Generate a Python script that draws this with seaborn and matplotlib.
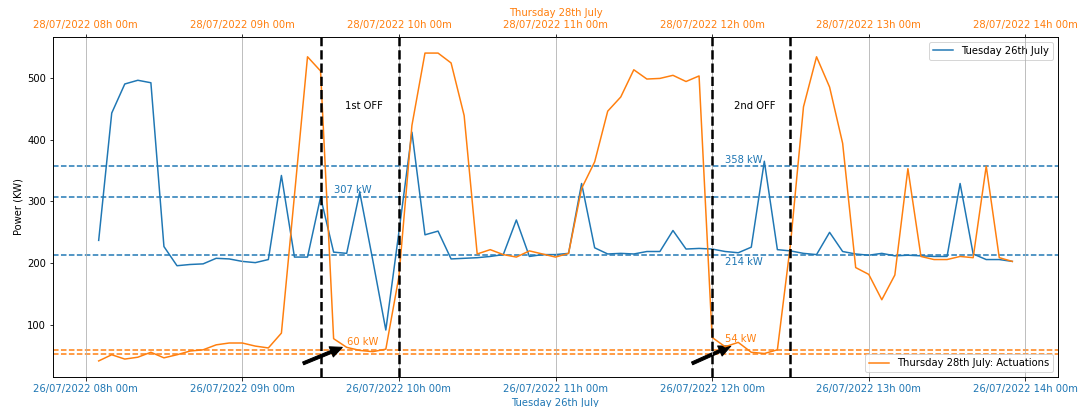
import pandas as pd
import seaborn as sns
import matplotlib.pyplot as plt
import matplotlib.dates as mdates

# 5-minute readings, 08:05 -> 13:55
tuesday_kw = [237, 443, 490, 496, 492, 227, 196, 198, 199, 208, 207, 203, 201, 206, 342, 210,
              210, 307, 218, 216, 315, 205, 92, 250, 412, 246, 252, 207, 208, 209, 211, 214,
              270, 211, 214, 214, 216, 329, 225, 215, 216, 215, 219, 219, 253, 223, 224, 223,
              219, 217, 226, 365, 222, 220, 216, 214, 250, 219, 215, 213, 216, 212, 213, 212,
              211, 211, 329, 215, 206, 206, 203]
thursday_kw = [42, 52, 45, 48, 56, 47, 52, 58, 60, 68, 71, 71, 66, 63, 87, 310,
               534, 511, 78, 64, 59, 57, 61, 178, 423, 540, 540, 524, 439, 215, 222, 214,
               210, 220, 215, 210, 216, 321, 364, 446, 469, 513, 498, 499, 504, 494, 503, 80,
               65, 72, 56, 54, 60, 230, 453, 534, 485, 394, 193, 182, 141, 181, 353, 211,
               206, 206, 211, 209, 357, 209, 203]

tuesday_times = pd.date_range('2022-07-26 08:05', periods=len(tuesday_kw), freq='5min')
thursday_times = pd.date_range('2022-07-28 08:05', periods=len(thursday_kw), freq='5min')

blue_levels = [358, 307, 214]
orange_levels = [60, 54]
off_windows = [('09:30', '10:00'), ('12:00', '12:30')]


def tue(hm):
    return pd.Timestamp('2022-07-26 ' + hm)


def thu(hm):
    return pd.Timestamp('2022-07-28 ' + hm)


fig = plt.figure(figsize=(1083 / 72, 407 / 72), dpi=72)
ax = fig.add_axes([53 / 1083, 1 - 377 / 407, 1005 / 1083, 340 / 407])

sns.lineplot(x=tuesday_times, y=tuesday_kw, ax=ax, color='C0', label='Tuesday 26th July')
ax2 = ax.twiny()
sns.lineplot(x=thursday_times, y=thursday_kw, ax=ax2, color='C1',
             label='Thursday 28th July: Actuations')

# reference levels
for lvl in blue_levels:
    ax.axhline(lvl, color='C0', ls='--', lw=1.5)
for lvl in orange_levels:
    ax.axhline(lvl, color='C1', ls='--', lw=1.5)

ax.text(tue('09:46:30'), 454, '1st OFF', ha='center', va='center')
ax.text(tue('12:16:30'), 454, '2nd OFF', ha='center', va='center')

ax.text(tue('09:35'), 313, '307 kW', color='C0')
ax.text(tue('12:05'), 362, '358 kW', color='C0')
ax.text(tue('12:05'), 197, '214 kW', color='C0')
ax.text(tue('09:40'), 67, '60 kW', color='C1')
ax.text(tue('12:05'), 73, '54 kW', color='C1')

arrow = dict(facecolor='black', edgecolor='black', width=3, headwidth=11, headlength=12, shrink=0)
ax.annotate('', xy=(tue('09:38:20'), 64), xytext=(tue('09:23:20'), 38), arrowprops=arrow)
ax.annotate('', xy=(tue('12:07:10'), 66), xytext=(tue('11:52:20'), 38), arrowprops=arrow)

ax.set_ylim(16, 566)
ax.set_ylabel('Power (KW)')
lo, hi = ax.get_xlim()
ax2.set_xlim(lo + 2, hi + 2)

# OFF windows (drawn on the top axes so they sit above the grid)
for start, end in off_windows:
    ax2.axvline(thu(start), color='black', ls='--', lw=2.5)
    ax2.axvline(thu(end), color='black', ls='--', lw=2.5)

fmt = '%d/%m/%Y %Hh %Mm'
for a in (ax, ax2):
    a.xaxis.set_major_locator(mdates.HourLocator())
    a.xaxis.set_major_formatter(mdates.DateFormatter(fmt))
ax.tick_params(axis='x', labelcolor='C0')
ax2.tick_params(axis='x', labelcolor='C1')
ax.set_xlabel('Tuesday 26th July', color='C0')
ax2.set_xlabel('Thursday 28th July', color='C1')
ax2.grid(axis='x')

ax.legend(loc='upper right')
ax2.legend(loc='lower right')

fig.savefig('out.png', dpi=72)
plt.close()
